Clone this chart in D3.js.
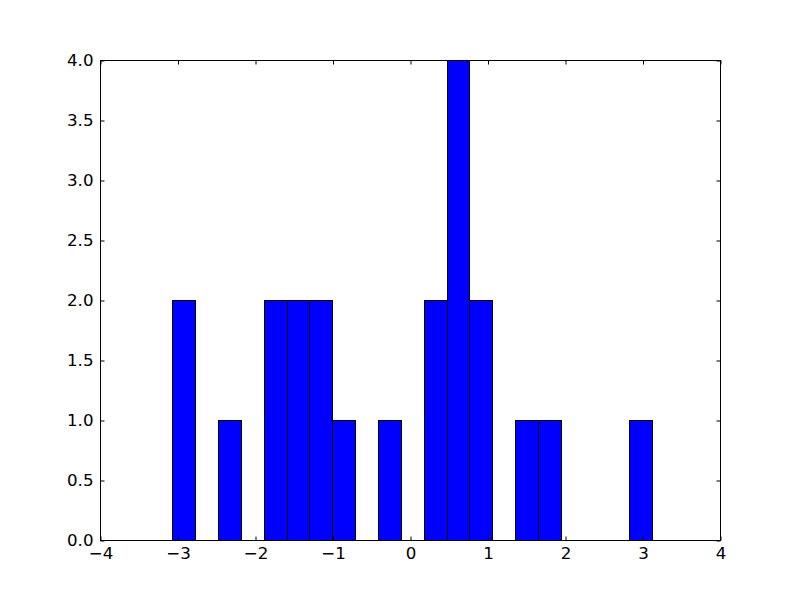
<!DOCTYPE html>
<html>
<head>
<meta charset="utf-8">
<script src="https://cdn.jsdelivr.net/npm/d3@7"></script>
<style>
  html, body { margin: 0; padding: 0; background: #fff; }
  svg { display: block; }
  text { font-family: "DejaVu Sans", sans-serif; }
</style>
</head>
<body>
<svg id="chart" width="800" height="600"></svg>
<script>
// Histogram bin edges (21 bins) and counts
const binEdges = [-3.067, -2.772, -2.477, -2.183, -1.888, -1.593, -1.298, -1.003, -0.709, -0.414,
                  -0.119, 0.176, 0.471, 0.765, 1.060, 1.355, 1.650, 1.945, 2.239, 2.534, 2.829, 3.124];
const counts = [2, 0, 1, 0, 2, 2, 2, 1, 0, 1, 0, 2, 4, 2, 0, 1, 1, 0, 0, 0, 1];
const xTicks = [-4, -3, -2, -1, 0, 1, 2, 3, 4];
const yTicks = [0.0, 0.5, 1.0, 1.5, 2.0, 2.5, 3.0, 3.5, 4.0];
const xDomain = [-4, 4];
const yDomain = [0, 4];

const margin = {left: 100, top: 60, right: 80, bottom: 60};
const W = 800, H = 600;
const iw = W - margin.left - margin.right;   // 620
const ih = H - margin.top - margin.bottom;   // 480

const svg = d3.select("#chart");
svg.append("rect").attr("width", W).attr("height", H).attr("fill", "#fff");

// half-pixel offset for crisp 1px lines
const g = svg.append("g").attr("transform", `translate(${margin.left + 0.5},${margin.top + 0.5})`);

const x = d3.scaleLinear().domain(xDomain).range([0, iw]);
const y = d3.scaleLinear().domain(yDomain).range([ih, 0]);

const bins = counts.map((c, i) => ({x0: binEdges[i], x1: binEdges[i + 1], c}));

g.selectAll("rect.bar").data(bins).enter().append("rect")
  .attr("class", "bar")
  .attr("x", d => Math.round(x(d.x0)))
  .attr("width", d => Math.round(x(d.x1)) - Math.round(x(d.x0)))
  .attr("y", d => Math.round(y(d.c)))
  .attr("height", d => Math.round(y(0)) - Math.round(y(d.c)))
  .attr("fill", "#0000ff")
  .attr("stroke", "#000")
  .attr("stroke-width", 1);

const fmtX = d => (d < 0 ? "\u2212" : "") + Math.abs(d);
const fmtY = d => d3.format(".1f")(d);

const fontSize = "16.67px";

function styleAxis(sel) {
  sel.select(".domain").remove();
  sel.selectAll(".tick line").attr("stroke", "#000").attr("stroke-width", 1);
  sel.selectAll(".tick text").attr("fill", "#000").style("font-size", fontSize)
     .style("font-family", "'DejaVu Sans', sans-serif");
}

// bottom
g.append("g").attr("transform", `translate(0,${ih})`)
  .call(d3.axisBottom(x).tickValues(xTicks).tickFormat(fmtX).tickSizeInner(-4).tickSizeOuter(0).tickPadding(7))
  .call(styleAxis);
// top
g.append("g")
  .call(d3.axisTop(x).tickValues(xTicks).tickFormat("").tickSizeInner(-4).tickSizeOuter(0))
  .call(styleAxis);
// left
g.append("g")
  .call(d3.axisLeft(y).tickValues(yTicks).tickFormat(fmtY).tickSizeInner(-4).tickSizeOuter(0).tickPadding(7))
  .call(styleAxis);
// right
g.append("g").attr("transform", `translate(${iw},0)`)
  .call(d3.axisRight(y).tickValues(yTicks).tickFormat("").tickSizeInner(-4).tickSizeOuter(0))
  .call(styleAxis);

// frame
g.append("rect").attr("x", 0).attr("y", 0).attr("width", iw).attr("height", ih)
  .attr("fill", "none").attr("stroke", "#000").attr("stroke-width", 1);
</script>
</body>
</html>
